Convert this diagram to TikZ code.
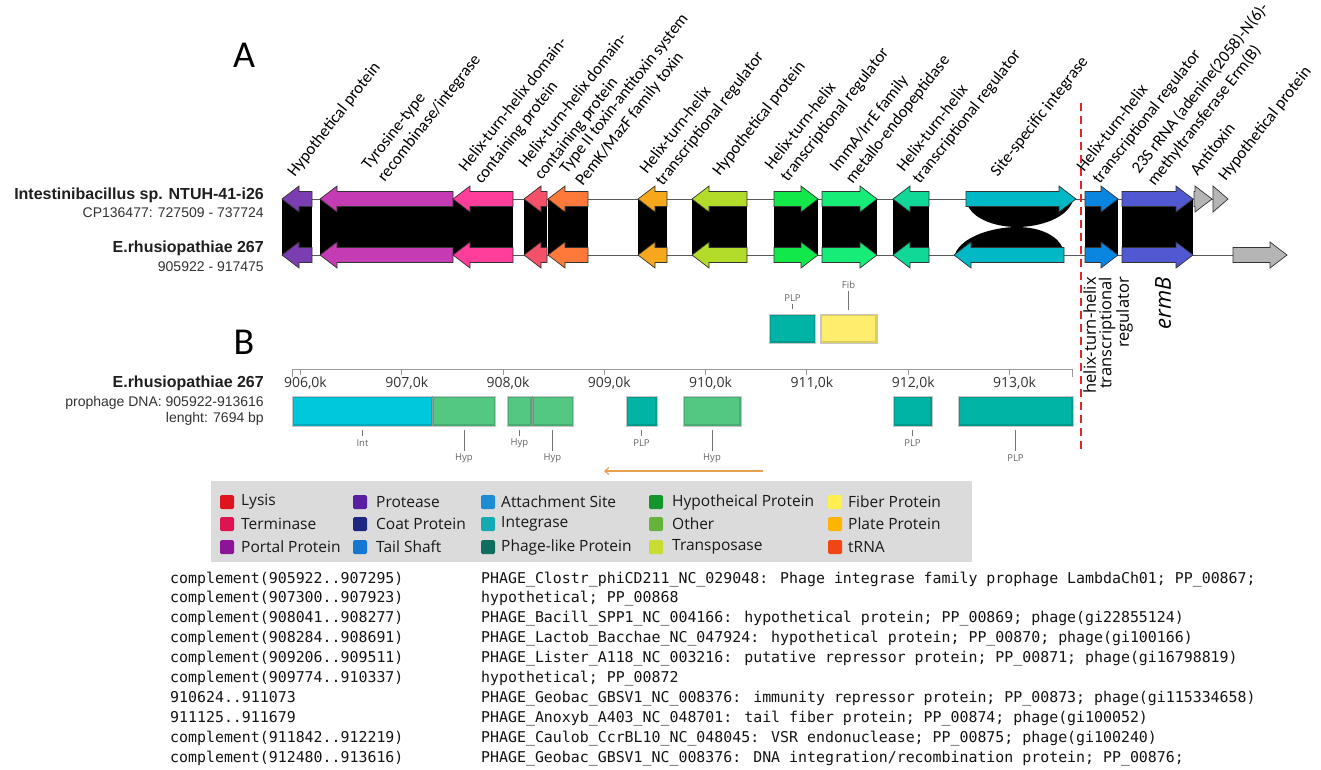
\documentclass[tikz,border=0pt]{standalone}
\usepackage{fontspec}
\setmainfont{Carlito}
\newfontfamily\arl{Liberation Sans}
\newfontfamily\osn{Open Sans}
\newfontfamily\mno{DejaVu Sans Mono}
\usetikzlibrary{arrows.meta}
% gene colours
\definecolor{cPur}{HTML}{7A3DB2}
\definecolor{cMag}{HTML}{C53BB4}
\definecolor{cPink}{HTML}{FF3D9A}
\definecolor{cRed}{HTML}{F5516B}
\definecolor{cOra}{HTML}{FF7A3A}
\definecolor{cYO}{HTML}{F7A71B}
\definecolor{cYG}{HTML}{B3DB2A}
\definecolor{cGa}{HTML}{12E84A}
\definecolor{cGb}{HTML}{18EC78}
\definecolor{cTG}{HTML}{12D897}
\definecolor{cCy}{HTML}{00B8C6}
\definecolor{cBl}{HTML}{0B86E0}
\definecolor{cInd}{HTML}{5058D2}
\definecolor{cGr}{HTML}{B5B5B5}
% panel B colours
\definecolor{cInt}{HTML}{00C8DC}
\definecolor{cHyp}{HTML}{52C882}
\definecolor{cPLP}{HTML}{00B4A5}
\definecolor{cFib}{HTML}{FFEE6E}
\definecolor{cOarr}{HTML}{E6A050}
\definecolor{cDash}{HTML}{E8232A}
% legend colours
\definecolor{lLys}{HTML}{E0141E}
\definecolor{lTer}{HTML}{DC1450}
\definecolor{lPor}{HTML}{8C1496}
\definecolor{lPro}{HTML}{5A1EA0}
\definecolor{lCoa}{HTML}{1E2882}
\definecolor{lTai}{HTML}{1478D2}
\definecolor{lAtt}{HTML}{1E8CD2}
\definecolor{lInt}{HTML}{14AAB4}
\definecolor{lPhl}{HTML}{0F6E5F}
\definecolor{lHyp}{HTML}{14962D}
\definecolor{lOth}{HTML}{64B43C}
\definecolor{lTra}{HTML}{C8DC32}
\definecolor{lFib}{HTML}{FFF050}
\definecolor{lPla}{HTML}{FFB400}
\definecolor{ltRN}{HTML}{F04614}

\newcommand{\gR}[4]{% x1 x2(tip) y colour
  \pgfmathsetmacro{\hxa}{max(#1,#2-17)}%
  \draw[gene,fill=#4] (#1,#3-7.5) -- (\hxa,#3-7.5) -- (\hxa,#3-13) -- (#2,#3) -- (\hxa,#3+13) -- (\hxa,#3+7.5) -- (#1,#3+7.5) -- cycle;}
\newcommand{\gL}[4]{% x1(tip) x2 y colour
  \pgfmathsetmacro{\hxa}{min(#2,#1+17)}%
  \draw[gene,fill=#4] (#2,#3-7.5) -- (\hxa,#3-7.5) -- (\hxa,#3-13) -- (#1,#3) -- (\hxa,#3+13) -- (\hxa,#3+7.5) -- (#2,#3+7.5) -- cycle;}
\newcommand{\pbox}[5]{% x1 x2 y1 y2 colour
  \fill[#5] (#1,#3) rectangle (#2,#4);
  \draw[#5!70!black, line width=1.4pt, opacity=0.45] (#1+0.9,#3+0.9) rectangle (#2-0.9,#4-0.9);
  \draw[black!22, line width=0.7pt] (#1,#3) rectangle (#2,#4);}

\tikzset{
  gene/.style={draw=black!80, line width=0.7pt},
  trk/.style={draw=black!65, line width=0.9pt},
  glabel/.style={rotate=52, anchor=south west, inner sep=0pt, text depth=0pt, align=left, font=\fontsize{16.7}{20}\selectfont},
  vlabel/.style={rotate=90, anchor=north east, inner sep=0pt, align=right, font=\osn\fontsize{16.5}{15.5}\selectfont},
  ttl/.style={font=\fontsize{38}{40}\selectfont, inner sep=0pt},
  sname/.style={anchor=east, inner sep=0pt, font=\arl\bfseries\fontsize{16}{19}\selectfont, text=black!88},
  ssub/.style={anchor=east, inner sep=0pt, font=\arl\fontsize{14}{17}\selectfont, text=black!80},
  kb/.style={font=\osn\fontsize{14}{16}\selectfont, text=black!80, inner sep=0pt},
  sl/.style={font=\osn\fontsize{9.5}{11}\selectfont, text=black!60, inner sep=0pt},
  tk/.style={draw=black!55, line width=0.6pt},
  axis/.style={draw=black!40, line width=1pt},
  leg/.style={anchor=west, inner sep=0pt, font=\osn\fontsize{15.5}{17}\selectfont, text=black!90},
  tab/.style={anchor=base west, inner sep=0pt, font=\mno\fontsize{14.9}{18}\selectfont, text=black!92},
}

\begin{document}
\begin{tikzpicture}[x=1pt,y=-1pt]
\fill[white] (0,0) rectangle (1321,769);
\useasboundingbox (0,0) rectangle (1321,769);

% ---------- panel A ----------
\node[ttl] (A) at (244,55) {A};
\node[sname] (n1) at (264,195) {Intestinibacillus sp. NTUH-41-i26};
\node[ssub] (n1c) at (264,213) {CP136477: 727509 - 737724};
\node[sname] (n2) at (264,248) {E.rhusiopathiae 267};
\node[ssub] (n2c) at (264,267) {905922 - 917475};

% track lines
\draw[trk] (282,199) -- (1228,199);
\draw[trk] (282,255) -- (1287,255);

% homology (black) regions
\foreach \a/\b in {282/312,320/453,453/513,524/547,548/588,638/667,692/747,774/818,822/877,893/929,1085/1118,1122/1193}
  \fill[black] (\a,199) rectangle (\b,255);
% inverted homology (hourglass)
\fill[black] (966,200) -- (1073,200) .. controls (1068,218) and (1040,227) .. (1017,227)
   .. controls (994,227) and (969,218) .. (966,200) -- cycle;
\fill[black] (1017,227) .. controls (1040,227) and (1062,236) .. (1064,254) -- (955,254)
   .. controls (962,236) and (994,227) .. (1017,227) -- cycle;

% genes, top row
\gL{282}{312}{199}{cPur}
\gL{320}{453}{199}{cMag}
\gL{453}{513}{199}{cPink}
\gL{524}{547}{199}{cRed}
\gL{548}{588}{199}{cOra}
\gL{638}{667}{199}{cYO}
\gL{692}{747}{199}{cYG}
\gR{774}{818}{199}{cGa}
\gR{822}{877}{199}{cGb}
\gL{893}{929}{199}{cTG}
\gR{966}{1076}{199}{cCy}
\gR{1085}{1118}{199}{cBl}
\gR{1122}{1193}{199}{cInd}
\gR{1194}{1212}{199}{cGr}
\gR{1213}{1228}{199}{cGr}
% genes, bottom row
\gL{282}{312}{255}{cPur}
\gL{320}{453}{255}{cMag}
\gL{453}{513}{255}{cPink}
\gL{524}{547}{255}{cRed}
\gL{548}{588}{255}{cOra}
\gL{638}{667}{255}{cYO}
\gL{692}{747}{255}{cYG}
\gR{774}{818}{255}{cGa}
\gR{822}{877}{255}{cGb}
\gL{893}{929}{255}{cTG}
\gL{954}{1064}{255}{cCy}
\gR{1085}{1118}{255}{cBl}
\gR{1122}{1193}{255}{cInd}
\gR{1233}{1287}{255}{cGr}

% gene labels
\node[glabel] (g1) at (295,178) {Hypothetical protein};
\node[glabel] (g2) at (385,183) {Tyrosine-type\\recombinase/integrase};
\node[glabel] (g3) at (482,185) {Helix-turn-helix domain-\\containing protein};
\node[glabel] (g4) at (542,181) {Helix-turn-helix domain-\\containing protein};
\node[glabel] (g5) at (583,187) {Type II toxin-antitoxin system\\PemK/MazF family toxin};
\node[glabel] (g6) at (663,187) {Helix-turn-helix\\transcriptional regulator};
\node[glabel] (g7) at (720,177) {Hypothetical protein};
\node[glabel] (g8) at (788,183) {Helix-turn-helix\\transcriptional regulator};
\node[glabel] (g9) at (853,185) {ImmA/IrrE family\\metallo-endopeptidase};
\node[glabel] (g10) at (920,185) {Helix-turn-helix\\transcriptional regulator};
\node[glabel] (g11) at (998,178) {Site-specific integrase};
\node[glabel] (g12) at (1100,185) {Helix-turn-helix\\transcriptional regulator};
\node[glabel] (g13) at (1155,187) {23S rRNA (adenine(2058)-N(6)-\\methyltransferase Erm(B)};
\node[glabel] (g14) at (1198,177) {Antitoxin};
\node[glabel] (g15) at (1226,182) {Hypothetical protein};

% vertical labels
\node[vlabel] (v1) at (1083,277) {helix-turn-helix\\transcriptional\\regulator};
\node[rotate=90, anchor=east, inner sep=0pt, font=\osn\itshape\fontsize{22}{24}\selectfont] (v2) at (1163,277) {ermB};

% red dashed separator
\coordinate (dTop) at (1081,103);
\coordinate (dBot) at (1081,452);
\draw[cDash, line width=1.5pt, dash pattern=on 8pt off 5pt] (dTop) -- (dBot);

% ---------- panel B ----------
\node[ttl] (B) at (244,342) {B};
\node[sname] (m1) at (264,383) {E.rhusiopathiae 267};
\node[ssub] (m2) at (264,403) {prophage DNA: 905922-913616};
\node[ssub] (m3) at (264,419) {lenght: 7694 bp};

% axis
\draw[axis] (292.5,377) -- (292.5,369) -- (1072,369) -- (1072,377);
\foreach \t/\lab in {300.4/906,401.7/907,503/908,604.3/909,705.6/910,806.9/911,908.2/912,1009.6/913}{
  \draw[axis] (\t,369) -- (\t,375);
  \node[kb] at (\t+5,383) {\lab,0k};
}

% upper boxes
\pbox{769.5}{815.5}{314}{343}{cPLP}
\pbox{820}{877}{314}{343}{cFib}
\draw[tk] (792.5,304) -- (792.5,309);
\node[sl] (uPLP) at (792.5,298) {PLP};
\draw[tk] (848.5,291) -- (848.5,310);
\node[sl] (uFib) at (848.5,285) {Fib};

% main row of boxes
\pbox{292.5}{432.5}{396}{426}{cInt}
\pbox{432.5}{495.5}{396}{426}{cHyp}
\pbox{507}{532}{396}{426}{cHyp}
\pbox{532}{573.5}{396}{426}{cHyp}
\pbox{626}{657}{396}{426}{cPLP}
\pbox{683}{741}{396}{426}{cHyp}
\pbox{893}{932}{396}{426}{cPLP}
\pbox{958}{1073}{396}{426}{cPLP}
\draw[black!40, line width=0.7pt] (432.5,396) -- (432.5,426);
\draw[black!40, line width=0.7pt] (532,396) -- (532,426);

% box labels
\draw[tk] (362.5,430) -- (362.5,436); \node[sl] (b1) at (362.5,443) {Int};
\draw[tk] (464,430) -- (464,451);     \node[sl] (b2) at (464,458) {Hyp};
\draw[tk] (519.5,430) -- (519.5,436); \node[sl] (b3) at (519.5,443) {Hyp};
\draw[tk] (552.5,430) -- (552.5,451); \node[sl] (b4) at (552.5,458) {Hyp};
\draw[tk] (641.5,430) -- (641.5,436); \node[sl] (b5) at (641.5,443) {PLP};
\draw[tk] (712,430) -- (712,451);     \node[sl] (b6) at (712,458) {Hyp};
\draw[tk] (912.5,430) -- (912.5,436); \node[sl] (b7) at (912.5,443) {PLP};
\draw[tk] (1015.5,430) -- (1015.5,451); \node[sl] (b8) at (1015.5,458) {PLP};

% direction arrow
\coordinate (oS) at (763,471);
\coordinate (oE) at (604,471);
\draw[cOarr, line width=1.1pt, -{Straight Barb[length=4pt,width=7pt]}] (oS) -- (oE);

% ---------- legend ----------
\fill[black!14] (211,481) rectangle (972,562);
\foreach \sx/\tx/\ya/\col/\txt in {
  220/241/502/lLys/Lysis, 220/241/524/lTer/Terminase, 220/241/547/lPor/Portal Protein,
  353/376/502/lPro/Protease, 353/376/524/lCoa/Coat Protein, 353/376/547/lTai/Tail Shaft,
  481/501/502/lAtt/Attachment Site, 481/501/524/lInt/Integrase, 481/501/547/lPhl/Phage-like Protein,
  649/672/502/lHyp/Hypotheical Protein, 649/672/524/lOth/Other, 649/672/547/lTra/Transposase,
  828/848/502/lFib/Fiber Protein, 828/848/524/lPla/Plate Protein, 828/848/547/ltRN/tRNA}{
  \fill[\col, rounded corners=1.5pt] (\sx,\ya-7) rectangle (\sx+14,\ya+7);
  \node[leg] at (\tx,\ya) {\txt};
}

% ---------- table ----------
\node[tab] (tl1) at (170,583) {complement(905922..907295)};
\node[tab] (tl2) at (170,602.9) {complement(907300..907923)};
\node[tab] (tl3) at (170,622.8) {complement(908041..908277)};
\node[tab] (tl4) at (170,642.7) {complement(908284..908691)};
\node[tab] (tl5) at (170,662.6) {complement(909206..909511)};
\node[tab] (tl6) at (170,682.5) {complement(909774..910337)};
\node[tab] (tl7) at (170,702.4) {910624..911073};
\node[tab] (tl8) at (170,722.3) {911125..911679};
\node[tab] (tl9) at (170,742.2) {complement(911842..912219)};
\node[tab] (tl10) at (170,762.1) {complement(912480..913616)};
\node[tab] (tr1) at (481,583) {PHAGE\_Clostr\_phiCD211\_NC\_029048: Phage integrase family prophage LambdaCh01; PP\_00867;};
\node[tab] (tr2) at (481,602.9) {hypothetical; PP\_00868};
\node[tab] (tr3) at (481,622.8) {PHAGE\_Bacill\_SPP1\_NC\_004166: hypothetical protein; PP\_00869; phage(gi22855124)};
\node[tab] (tr4) at (481,642.7) {PHAGE\_Lactob\_Bacchae\_NC\_047924: hypothetical protein; PP\_00870; phage(gi100166)};
\node[tab] (tr5) at (481,662.6) {PHAGE\_Lister\_A118\_NC\_003216: putative repressor protein; PP\_00871; phage(gi16798819)};
\node[tab] (tr6) at (481,682.5) {hypothetical; PP\_00872};
\node[tab] (tr7) at (481,702.4) {PHAGE\_Geobac\_GBSV1\_NC\_008376: immunity repressor protein; PP\_00873; phage(gi115334658)};
\node[tab] (tr8) at (481,722.3) {PHAGE\_Anoxyb\_A403\_NC\_048701: tail fiber protein; PP\_00874; phage(gi100052)};
\node[tab] (tr9) at (481,742.2) {PHAGE\_Caulob\_CcrBL10\_NC\_048045: VSR endonuclease; PP\_00875; phage(gi100240)};
\node[tab] (tr10) at (481,762.1) {PHAGE\_Geobac\_GBSV1\_NC\_008376: DNA integration/recombination protein; PP\_00876;};
\end{tikzpicture}
\end{document}
